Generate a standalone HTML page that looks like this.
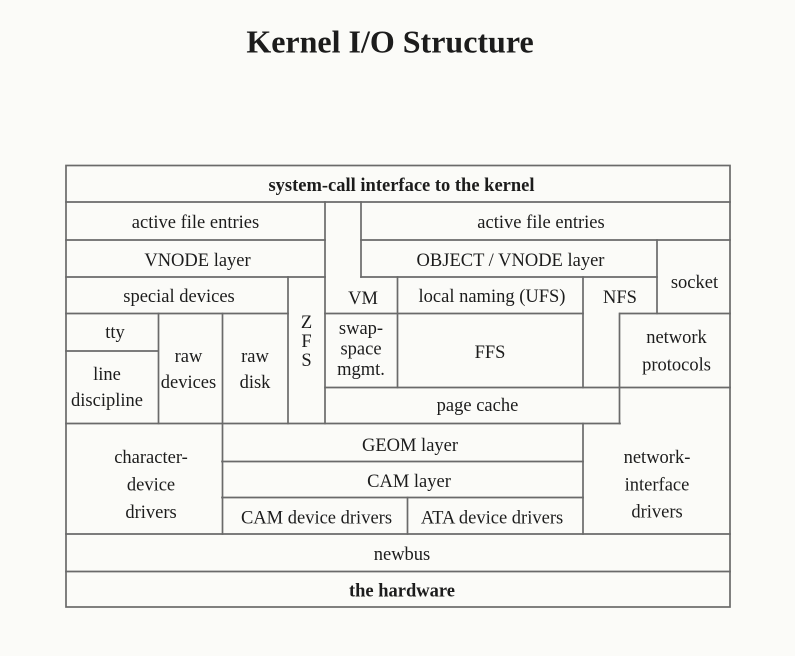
<!DOCTYPE html>
<html>
<head>
<meta charset="utf-8">
<style>
  html, body { margin: 0; padding: 0; background: #fbfbf8; }
  svg { display: block; }
  text { font-family: "Liberation Serif", "Times New Roman", serif; fill: #1c1c1c; }
  .t { font-size: 18.5px; }
  .b { font-size: 18.5px; font-weight: bold; }
  .title { font-size: 32px; font-weight: bold; }
</style>
</head>
<body>
<svg width="795" height="656" viewBox="0 0 795 656" xmlns="http://www.w3.org/2000/svg">
  <rect x="0" y="0" width="795" height="656" fill="#fbfbf8"/>
  <text class="title" x="390" y="52.5" text-anchor="middle">Kernel I/O Structure</text>

  <g stroke="#6a6a6a" stroke-width="1.7" fill="none" stroke-linecap="square">
    <rect x="66" y="165.5" width="664" height="441.5"/>
    <!-- horizontal lines -->
    <line x1="66" y1="202" x2="730" y2="202"/>
    <line x1="66" y1="240" x2="325" y2="240"/>
    <line x1="361" y1="240" x2="730" y2="240"/>
    <line x1="66" y1="277" x2="325" y2="277"/>
    <line x1="361" y1="277" x2="657" y2="277"/>
    <line x1="66" y1="313.5" x2="288" y2="313.5"/>
    <line x1="325" y1="313.5" x2="583" y2="313.5"/>
    <line x1="620" y1="313.5" x2="730" y2="313.5"/>
    <line x1="66" y1="351" x2="158" y2="351"/>
    <line x1="325" y1="387.5" x2="730" y2="387.5"/>
    <line x1="66" y1="423.5" x2="620" y2="423.5"/>
    <line x1="222" y1="461.5" x2="583" y2="461.5"/>
    <line x1="222" y1="497.5" x2="583" y2="497.5"/>
    <line x1="66" y1="534" x2="730" y2="534"/>
    <line x1="66" y1="571.5" x2="730" y2="571.5"/>
    <!-- vertical lines -->
    <line x1="325" y1="202" x2="325" y2="423.5"/>
    <line x1="361" y1="202" x2="361" y2="277"/>
    <line x1="657" y1="240" x2="657" y2="313.5"/>
    <line x1="288" y1="277" x2="288" y2="423.5"/>
    <line x1="158.5" y1="313.5" x2="158.5" y2="423.5"/>
    <line x1="222.5" y1="313.5" x2="222.5" y2="534"/>
    <line x1="397.5" y1="277" x2="397.5" y2="387.5"/>
    <line x1="583" y1="277" x2="583" y2="387.5"/>
    <line x1="583" y1="423.5" x2="583" y2="534"/>
    <line x1="619.5" y1="313.5" x2="619.5" y2="423.5"/>
    <line x1="407.5" y1="497.5" x2="407.5" y2="534"/>
  </g>

  <g text-anchor="middle">
    <text class="b" x="401.5" y="191">system-call interface to the kernel</text>
    <text class="t" x="195.5" y="228">active file entries</text>
    <text class="t" x="541" y="228">active file entries</text>
    <text class="t" x="197.5" y="266">VNODE layer</text>
    <text class="t" x="510.5" y="266">OBJECT / VNODE layer</text>
    <text class="t" x="694.5" y="288">socket</text>
    <text class="t" x="179" y="302">special devices</text>
    <text class="t" x="363" y="304">VM</text>
    <text class="t" x="492" y="302">local naming (UFS)</text>
    <text class="t" x="620" y="303">NFS</text>
    <text class="t" x="115" y="338">tty</text>
    <text class="t" x="107" y="380">line</text>
    <text class="t" x="107" y="406">discipline</text>
    <text class="t" x="188.5" y="362">raw</text>
    <text class="t" x="188.5" y="388">devices</text>
    <text class="t" x="255" y="362">raw</text>
    <text class="t" x="255" y="388">disk</text>
    <text class="t" x="306.5" y="328">Z</text>
    <text class="t" x="306.5" y="347">F</text>
    <text class="t" x="306.5" y="366">S</text>
    <text class="t" x="361" y="334">swap-</text>
    <text class="t" x="361" y="354.5">space</text>
    <text class="t" x="361" y="375">mgmt.</text>
    <text class="t" x="490" y="358">FFS</text>
    <text class="t" x="676.5" y="343">network</text>
    <text class="t" x="676.5" y="370.5">protocols</text>
    <text class="t" x="477.5" y="411">page cache</text>
    <text class="t" x="151" y="463">character-</text>
    <text class="t" x="151" y="490.5">device</text>
    <text class="t" x="151" y="518">drivers</text>
    <text class="t" x="410" y="451">GEOM layer</text>
    <text class="t" x="409" y="487">CAM layer</text>
    <text class="t" x="316.5" y="523.5">CAM device drivers</text>
    <text class="t" x="492" y="523.5">ATA device drivers</text>
    <text class="t" x="657" y="463">network-</text>
    <text class="t" x="657" y="490.5">interface</text>
    <text class="t" x="657" y="517.5">drivers</text>
    <text class="t" x="402" y="560">newbus</text>
    <text class="b" x="402" y="596.5">the hardware</text>
  </g>
</svg>
</body>
</html>
